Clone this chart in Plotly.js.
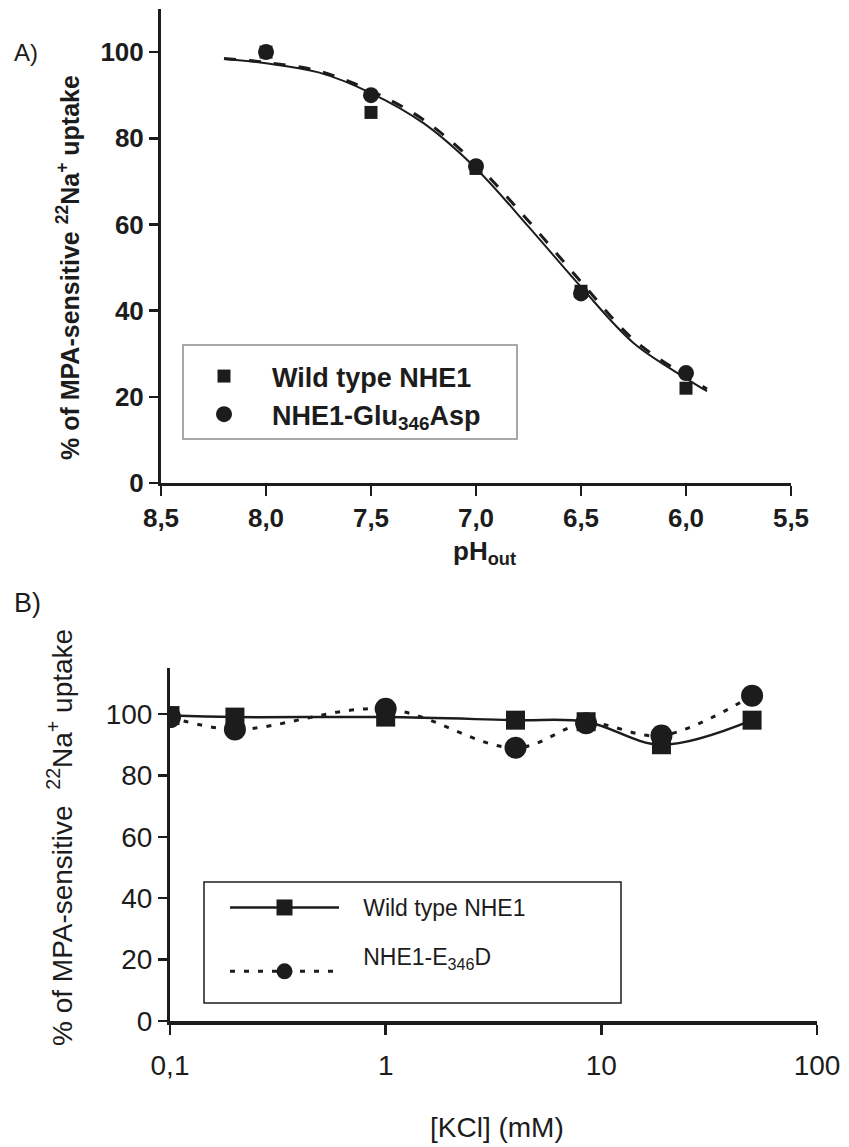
<!DOCTYPE html>
<html>
<head>
<meta charset="utf-8">
<script src="https://cdn.plot.ly/plotly-3.0.1.min.js"></script>
<style>html,body{margin:0;padding:0;background:#fff;}#chart{width:849px;height:1147px;}</style>
</head>
<body>
<div id="chart"></div>
<script>
// ---------- Panel A data ----------
const pHPoints = [8.0, 7.5, 7.0, 6.5, 6.0];
const wildTypeA = [100, 86, 73, 44.5, 22];
const mutantA = [100, 90, 73.5, 44, 25.5];
const fitPH = [8.2, 8.0, 7.75, 7.5, 7.25, 7.0, 6.75, 6.5, 6.25, 6.0, 5.9];
const wildTypeFitA = [98.4, 97.4, 95.3, 90.5, 83.5, 73.0, 59.5, 45.5, 32.5, 24.3, 21.3];
const mutantFitA = [98.5, 97.6, 95.6, 91.0, 84.3, 74.0, 60.8, 46.7, 33.3, 24.8, 21.8];
const pHTickVals = [8.5, 8.0, 7.5, 7.0, 6.5, 6.0, 5.5];
const pHTickText = ['8,5', '8,0', '7,5', '7,0', '6,5', '6,0', '5,5'];
const yTickVals = [0, 20, 40, 60, 80, 100];

// ---------- Panel B data ----------
const kclConc = [0.1, 0.2, 1, 4, 8.5, 19, 50];
const wildTypeB = [99.5, 99, 99, 98, 97.5, 90, 98];
const mutantB = [99, 95, 101.7, 89, 97, 93, 106];
const kclTickVals = [0.1, 1, 10, 100];
const kclTickText = ['0,1', '1', '10', '100'];

const W = 849, H = 1147;
const px = v => v / W;
const py = v => 1 - v / H;
const INK = '#1c1c1c';
const boldFont = (s) => ({family: 'Liberation Sans, Arial, sans-serif', size: s, color: INK, weight: 'bold'});
const regFont = (s) => ({family: 'Liberation Sans, Arial, sans-serif', size: s, color: INK});

const traces = [
  {x: fitPH, y: wildTypeFitA, xaxis: 'x', yaxis: 'y', mode: 'lines', line: {color: INK, width: 2, shape: 'spline'}, showlegend: false, hoverinfo: 'skip'},
  {x: fitPH, y: mutantFitA, xaxis: 'x', yaxis: 'y', mode: 'lines', line: {color: INK, width: 3, dash: '12px,13px', shape: 'spline'}, showlegend: false, hoverinfo: 'skip'},
  {x: pHPoints, y: wildTypeA, xaxis: 'x', yaxis: 'y', mode: 'markers', name: 'Wild type NHE1', legend: 'legend',
   marker: {symbol: 'square', size: 13, color: INK}},
  {x: pHPoints, y: mutantA, xaxis: 'x', yaxis: 'y', mode: 'markers', name: 'NHE1-Glu<sub>346</sub>Asp', legend: 'legend',
   marker: {symbol: 'circle', size: 16, color: INK}},
  {x: kclConc, y: wildTypeB, xaxis: 'x2', yaxis: 'y2', mode: 'lines+markers', name: '\u00A0\u00A0\u00A0Wild type NHE1', legend: 'legend2', legendgroup: 'g1',
   line: {color: INK, width: 2.5, shape: 'spline'}, marker: {symbol: 'square', size: 19, color: INK}},
  {x: kclConc, y: mutantB, xaxis: 'x2', yaxis: 'y2', mode: 'lines+markers', name: '\u00A0\u00A0\u00A0NHE1-E<sub>346</sub>D<br>\u00A0', legend: 'legend2', legendgroup: 'g2',
   line: {color: INK, width: 3, dash: '5px,9px', shape: 'spline'}, marker: {symbol: 'circle', size: 22, color: INK}}
];

const axisCommon = {showline: true, linecolor: INK, ticks: 'outside', tickcolor: INK, showgrid: false, zeroline: false, fixedrange: true};

const layout = {
  width: W, height: H,
  margin: {l: 0, r: 0, t: 0, b: 0},
  paper_bgcolor: '#fff', plot_bgcolor: 'rgba(0,0,0,0)',
  xaxis: Object.assign({}, axisCommon, {
    domain: [px(161), px(791)], range: [8.5, 5.5], anchor: 'y',
    tickvals: pHTickVals, ticktext: pHTickText, linewidth: 3, tickwidth: 2.5, ticklen: 10,
    tickfont: boldFont(26)
  }),
  yaxis: Object.assign({}, axisCommon, {
    domain: [py(483), py(9)], range: [0, 110], anchor: 'x',
    tickvals: yTickVals, linewidth: 3, tickwidth: 2.5, ticklen: 9,
    tickfont: boldFont(26)
  }),
  xaxis2: Object.assign({}, axisCommon, {
    domain: [px(170), px(817)], type: 'log', range: [-1, 2], anchor: 'y2',
    tickvals: kclTickVals, ticktext: kclTickText, linewidth: 4, tickwidth: 2.5, ticklen: 10,
    tickfont: regFont(28), ticklabelstandoff: 6
  }),
  yaxis2: Object.assign({}, axisCommon, {
    domain: [py(1021), py(668)], range: [0, 115], anchor: 'x2',
    tickvals: yTickVals, linewidth: 3, tickwidth: 2.5, ticklen: 9,
    tickfont: regFont(28)
  }),
  legend: {
    x: px(176), y: py(352), xanchor: 'left', yanchor: 'top',
    bgcolor: 'rgba(0,0,0,0)', borderwidth: 0, itemwidth: 86,
    font: boldFont(27), tracegroupgap: 0
  },
  legend2: {
    x: px(225), y: py(886), xanchor: 'left', yanchor: 'top',
    bgcolor: 'rgba(0,0,0,0)', borderwidth: 0, itemwidth: 109,
    font: regFont(23), tracegroupgap: 16
  },
  shapes: [
    {type: 'rect', xref: 'paper', yref: 'paper', x0: px(183), x1: px(517), y0: py(345), y1: py(439),
     line: {color: '#8c8c8c', width: 1.5}},
    {type: 'rect', xref: 'paper', yref: 'paper', x0: px(204), x1: px(621), y0: py(882), y1: py(1003),
     line: {color: INK, width: 1.5}}
  ],
  annotations: [
    {text: 'A)', xref: 'paper', yref: 'paper', x: px(12), y: py(52), xanchor: 'left', yanchor: 'middle', showarrow: false, font: regFont(24)},
    {text: 'B)', xref: 'paper', yref: 'paper', x: px(12), y: py(603), xanchor: 'left', yanchor: 'middle', showarrow: false, font: regFont(27)},
    {text: '% of MPA-sensitive <sup>22</sup>Na<sup>+</sup> uptake', xref: 'paper', yref: 'paper', x: px(68), y: py(268), xanchor: 'center', yanchor: 'middle', textangle: -90, showarrow: false, font: boldFont(25)},
    {text: 'pH<sub>out</sub>', xref: 'paper', yref: 'paper', x: px(485), y: py(552), xanchor: 'center', yanchor: 'middle', showarrow: false, font: boldFont(26)},
    {text: '% of MPA-sensitive \u00A0<sup>22</sup>Na<sup>+</sup> uptake', xref: 'paper', yref: 'paper', x: px(60), y: py(838), xanchor: 'center', yanchor: 'middle', textangle: -90, showarrow: false, font: regFont(28)},
    {text: '[KCl] (mM)', xref: 'paper', yref: 'paper', x: px(497), y: py(1127), xanchor: 'center', yanchor: 'middle', showarrow: false, font: regFont(28)}
  ]
};

Plotly.newPlot('chart', traces, layout, {staticPlot: true, displayModeBar: false});
</script>
</body>
</html>
